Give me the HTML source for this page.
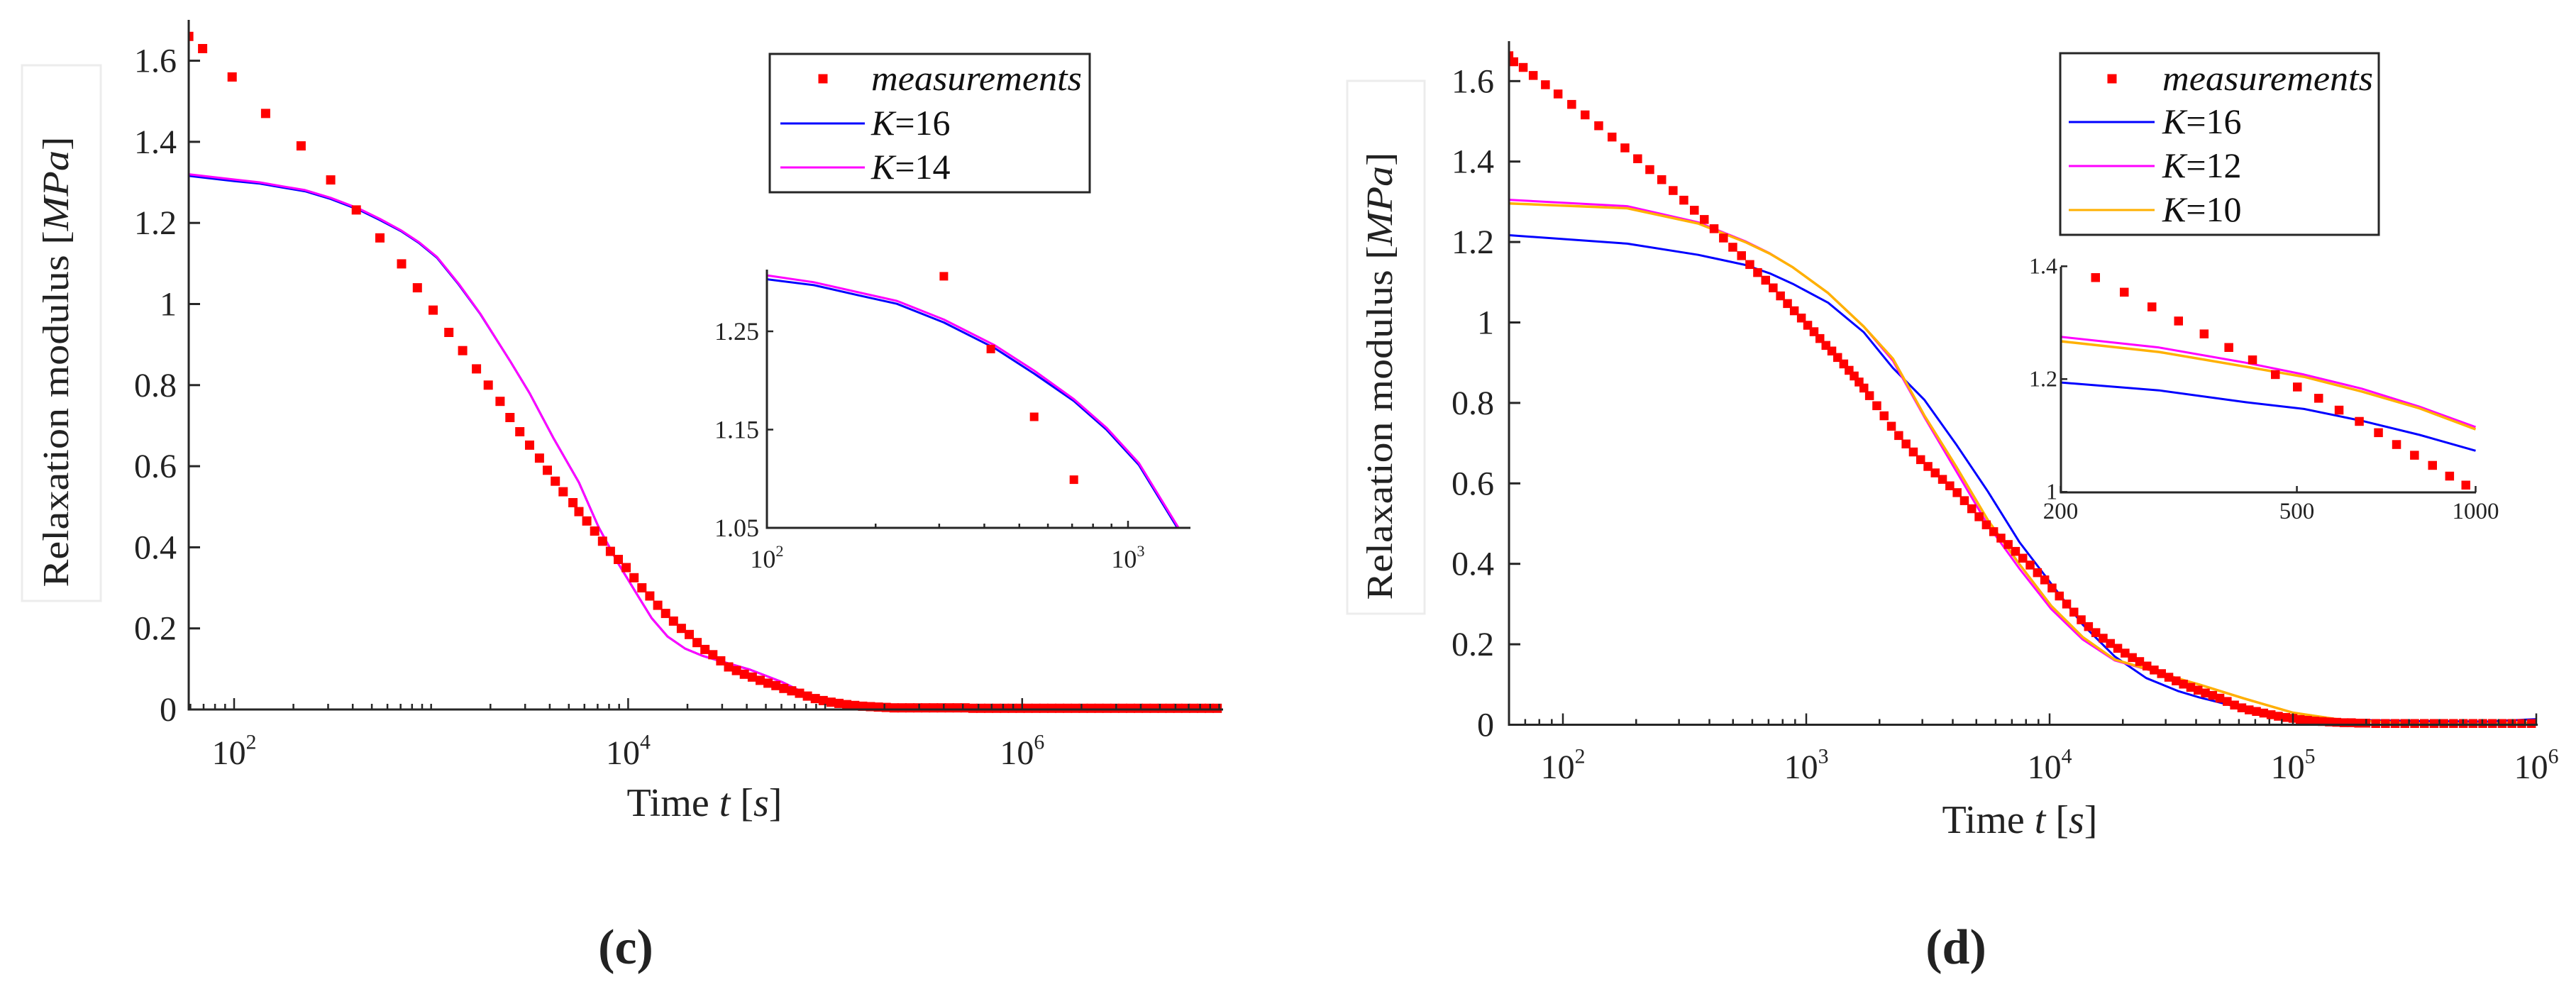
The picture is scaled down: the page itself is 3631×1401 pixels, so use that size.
<!DOCTYPE html>
<html><head><meta charset="utf-8"><style>
html,body{margin:0;padding:0;background:#fff;width:3631px;height:1401px;overflow:hidden;}
svg{display:block;font-family:"Liberation Serif",serif;}
</style></head><body>
<svg id="fig" width="3631" height="1401" viewBox="0 0 3631 1401" xmlns="http://www.w3.org/2000/svg">
<defs>
<clipPath id="clipC"><rect x="266" y="20" width="1460" height="995"/></clipPath>
<clipPath id="clipD"><rect x="2127" y="50" width="1452" height="985"/></clipPath>
<clipPath id="clipCi"><rect x="1081" y="380" width="597" height="364"/></clipPath>
<clipPath id="clipDi"><rect x="2905" y="377" width="585" height="318"/></clipPath>
</defs>
<g id="panelC"></g>
<g id="panelD"></g>
</svg>
<script>
// ---------- Panel (c) data ----------
const cMeasLogT = [1.77,1.84,1.99,2.16,2.34,2.49,2.62,2.74,2.85,2.93,3.01,3.09,3.16,3.23,3.29,3.35,3.40,3.45,3.50,3.55,3.59,3.63,3.67,3.72,3.75,
3.79,3.83,3.87,3.91,3.95,3.99,4.03,4.07,4.11,4.15,4.19,4.23,4.27,4.31,4.35,4.39,4.43,4.47,4.51,4.55,4.59,4.63,4.67,4.71,4.75,4.79,4.83,4.87,4.91,4.95,4.99,5.03,5.07,5.11,5.15,5.19,5.23,5.27,5.31,
5.35,5.39,5.43,5.47,5.51,5.55,5.59,5.63,5.67,5.71,5.75,5.79,5.83,5.87,5.91,5.95,5.99,6.03,6.07,6.11,6.15,6.19,6.23,6.27,6.31,6.35,6.39,6.43,6.47,6.51,6.55,6.59,6.63,6.67,6.71,6.75,6.79,6.83,6.87,6.91,6.95,6.99];
const cMeasG = [1.66,1.63,1.56,1.47,1.39,1.306,1.232,1.163,1.099,1.04,0.985,0.93,0.885,0.84,0.80,0.76,0.72,0.685,0.652,0.62,0.59,0.563,0.537,0.51,0.488,
0.465,0.44,0.415,0.39,0.37,0.35,0.325,0.30,0.28,0.257,0.237,0.218,0.20,0.185,0.165,0.148,0.135,0.12,0.105,0.096,0.087,0.08,0.072,0.065,0.059,0.052,0.046,0.04,0.033,0.027,0.022,0.018,0.015,0.012,0.01,0.008,0.007,0.006,0.005,
0.004,0.004,0.004,0.004,0.004,0.004,0.004,0.004,0.004,0.004,0.003,0.003,0.003,0.003,0.003,0.003,0.003,0.003,0.003,0.003,0.003,0.003,0.003,0.003,0.003,0.003,0.003,0.003,0.003,0.003,0.003,0.003,0.003,0.003,0.003,0.003,0.003,0.003,0.003,0.003,0.003,0.003];
const cFitLogT = [1.77,2.0,2.13,2.25,2.36,2.49,2.63,2.74,2.85,2.94,3.03,3.14,3.25,3.4,3.5,3.62,3.75,3.85,3.95,4.05,4.12,4.2,4.29,4.38,4.45,4.62,4.78,4.94,5.1,5.3,7.0];
const cK14G = [1.32,1.307,1.30,1.29,1.281,1.262,1.236,1.21,1.181,1.152,1.116,1.05,0.976,0.86,0.78,0.67,0.56,0.45,0.36,0.28,0.225,0.18,0.15,0.132,0.122,0.098,0.068,0.03,0.005,0.002,0.002];
const cK16G = [1.316,1.303,1.297,1.287,1.278,1.259,1.233,1.207,1.179,1.150,1.114,1.048,0.975,0.86,0.78,0.67,0.56,0.45,0.36,0.28,0.225,0.18,0.15,0.132,0.122,0.098,0.068,0.03,0.005,0.003,0.003];
const cYTicks = [0,0.2,0.4,0.6,0.8,1,1.2,1.4,1.6];
const cYTickLabels = ["0","0.2","0.4","0.6","0.8","1","1.2","1.4","1.6"];
const cXMajor = [2,4,6];
const cXMajorLabels = ["2","4","6"];
const cInsetYTicks = [1.05,1.15,1.25];
const cInsetYLabels = ["1.05","1.15","1.25"];
const cInsetXTicks = [2,3];
const cInsetXLabels = ["2","3"];

// ---------- Panel (d) data ----------
const dMeasLogT = [1.778,1.798,1.837,1.878,1.928,1.98,2.036,2.091,2.147,2.202,2.255,2.307,2.357,2.406,2.453,2.497,2.54,2.581,2.621,2.66,2.698,2.734,2.768,2.8,2.833,2.864,2.894,2.923,2.951,2.98,3.006,3.032,3.056,3.081,3.105,3.129,3.154,3.176,3.197,3.217,3.237,
3.26,3.29,3.32,3.35,3.38,3.41,3.44,3.47,3.50,3.53,3.56,3.59,3.62,3.65,3.68,3.71,3.74,3.77,3.80,3.83,3.86,3.89,3.92,3.95,3.98,4.01,4.04,4.07,4.10,4.13,4.16,4.19,4.22,4.25,4.28,4.31,4.34,4.37,4.40,4.43,4.46,4.49,4.52,4.55,4.58,4.61,4.64,4.67,4.70,4.73,4.76,4.79,4.82,4.85,4.88,4.91,4.94,4.97,5.00,5.03,5.06,5.09,5.12,5.15,5.18,5.21,5.24,5.27,5.30,
5.34,5.38,5.42,5.46,5.50,5.54,5.58,5.62,5.66,5.70,5.74,5.78,5.82,5.86,5.90,5.94,5.98];
const dMeasG = [1.663,1.648,1.634,1.614,1.591,1.568,1.542,1.516,1.489,1.461,1.434,1.407,1.38,1.355,1.328,1.304,1.279,1.256,1.233,1.21,1.187,1.166,1.144,1.124,1.105,1.086,1.066,1.047,1.029,1.011,0.993,0.977,0.96,0.943,0.929,0.913,0.897,0.881,0.867,0.852,0.837,
0.818,0.793,0.768,0.742,0.719,0.698,0.678,0.659,0.642,0.626,0.61,0.594,0.577,0.557,0.537,0.517,0.497,0.48,0.464,0.448,0.431,0.414,0.397,0.378,0.36,0.34,0.32,0.3,0.28,0.261,0.244,0.229,0.215,0.202,0.19,0.178,0.167,0.157,0.146,0.136,0.127,0.118,0.109,0.101,0.093,0.086,0.079,0.073,0.066,0.058,0.049,0.042,0.037,0.033,0.029,0.025,0.021,0.018,0.016,0.013,0.011,0.009,0.008,0.007,0.006,0.005,0.005,0.004,0.004,
0.003,0.003,0.003,0.003,0.003,0.003,0.003,0.003,0.003,0.003,0.003,0.003,0.003,0.003,0.003,0.003,0.003];
const dFitLogT = [1.778,2.264,2.556,2.749,2.85,2.945,3.09,3.236,3.356,3.485,3.615,3.746,3.876,4.006,4.136,4.267,4.397,4.527,4.615,4.8,5.0,5.2,5.5,5.8,6.0];
const dK16G = [1.217,1.196,1.168,1.143,1.122,1.096,1.049,0.976,0.887,0.808,0.698,0.58,0.454,0.351,0.249,0.17,0.116,0.084,0.068,0.04,0.02,0.012,0.009,0.008,0.014];
const dK12G = [1.305,1.289,1.249,1.202,1.172,1.137,1.073,0.99,0.905,0.765,0.632,0.497,0.388,0.288,0.212,0.16,0.138,0.115,0.10,0.065,0.03,0.012,0.003,0.002,0.006];
const dK10G = [1.296,1.284,1.246,1.20,1.171,1.137,1.073,0.99,0.91,0.769,0.643,0.509,0.399,0.296,0.218,0.162,0.139,0.115,0.10,0.065,0.03,0.012,0.003,0.002,0.005];
const dYTicks = [0,0.2,0.4,0.6,0.8,1,1.2,1.4,1.6];
const dYTickLabels = ["0","0.2","0.4","0.6","0.8","1","1.2","1.4","1.6"];
const dXMajor = [2,3,4,5,6];
const dXMajorLabels = ["2","3","4","5","6"];
// inset (d)
const dInsetMeasT = [229,256,285,316,349,384,421,460,501,544,589,637,686,736,789,846,904,963];
const dInsetMeasG = [1.380,1.354,1.328,1.303,1.280,1.256,1.234,1.208,1.186,1.166,1.145,1.125,1.105,1.084,1.065,1.047,1.028,1.012];
const dInsetFitT = [200,293,410,514,643,805,1000];
const dInsetK16G = [1.194,1.180,1.159,1.147,1.126,1.101,1.073];
const dInsetK12G = [1.275,1.256,1.229,1.208,1.183,1.151,1.115];
const dInsetK10G = [1.267,1.248,1.222,1.204,1.178,1.148,1.111];
const dInsetYTicks = [1,1.2,1.4];
const dInsetYLabels = ["1","1.2","1.4"];
const dInsetXTicks = [200,500,1000];
const dInsetXLabels = ["200","500","1000"];

const NS = "http://www.w3.org/2000/svg";
const AX = "#262626";
function mk(tag, attrs, parent){const e=document.createElementNS(NS,tag);for(const k in attrs)e.setAttribute(k,attrs[k]);if(parent)parent.appendChild(e);return e;}

const cx = l => 330 + (l-2)*277.7, cy = v => 1000 - v*571.5;
const dx = l => 2203 + (l-2)*343, dy = v => 1021.5 - v*567;
const cix = l => 1081 + (l-2)*509, ciy = v => 744 - (v-1.05)*1385;
const dix = t => 2904.5 + Math.log(t/200)/Math.log(5)*585, diy = v => 693.3 - (v-1)*795;

function drawLine(g, xs, ys, fx, fy, color, w, name, clip){
  let d="";
  for(let i=0;i<xs.length;i++){d+=(i?"L":"M")+fx(xs[i]).toFixed(1)+","+fy(ys[i]).toFixed(1);}
  const p = mk("path",{d:d,fill:"none",stroke:color,"stroke-width":w,"stroke-linejoin":"round","clip-path":"url(#"+clip+")"},g);
  
  
}
function drawMarkers(g, xs, ys, fx, fy, s, name, clip){
  const grp = mk("g",{"clip-path":"url(#"+clip+")"},g);
  
  
  for(let i=0;i<xs.length;i++){
    const r = mk("rect",{x:(fx(xs[i])-s/2).toFixed(1),y:(fy(ys[i])-s/2).toFixed(1),width:s,height:s,fill:"#ff0000"},grp);
    
    
  }
}
function text(g, x, y, str, size, anchor, name, extra){
  const t = mk("text",Object.assign({x:x,y:y,"font-size":size,"text-anchor":anchor||"start",fill:"#222"},extra||{}),g);
  t.textContent = str;
  
  
  return t;
}
function pow10(g, x, y, exp, size, name){
  const t = mk("text",{x:x,y:y,"font-size":size,"text-anchor":"middle",fill:"#222"},g);
  
  
  const a = mk("tspan",{},t); a.textContent="10";
  const b = mk("tspan",{"font-size":size*0.62,dy:-size*0.45}); b.textContent=exp; t.appendChild(b);
}
function ylabel(g, cxp, cyp, len, size){
  const t = mk("text",{transform:"translate("+cxp+","+cyp+") rotate(-90)","font-size":size,"text-anchor":"middle",fill:"#222",textLength:len,lengthAdjust:"spacingAndGlyphs"},g);
  
  
  const a=mk("tspan",{},t); a.textContent="Relaxation modulus [";
  const b=mk("tspan",{"font-style":"italic"},t); b.textContent="MPa";
  const c=mk("tspan",{},t); c.textContent="]";
}
function xlabel(g, cxp, y, size){
  const t = mk("text",{x:cxp,y:y,"font-size":size,"text-anchor":"middle",fill:"#222"},g);
  
  
  const a=mk("tspan",{},t); a.textContent="Time ";
  const b=mk("tspan",{"font-style":"italic"},t); b.textContent="t";
  const c=mk("tspan",{},t); c.textContent=" [";
  const d=mk("tspan",{"font-style":"italic"},t); d.textContent="s";
  const e=mk("tspan",{},t); e.textContent="]";
}
function logTicks(g, fx, y0, lo, hi, majorSet, majLen, minLen){
  for(let dec=Math.floor(lo); dec<=Math.ceil(hi); dec++){
    for(let m=1;m<=9;m++){
      const l = dec+Math.log10(m);
      if(l<lo-1e-6||l>hi+1e-6) continue;
      const len = (m===1 && majorSet.indexOf(dec)>=0)?majLen:minLen;
      const tk = mk("line",{x1:fx(l),x2:fx(l),y1:y0,y2:y0-len,stroke:AX,"stroke-width":2.5},g);
      
      
    }
  }
}
function legend(g, x, y, w, h, entries, labelX, lineX1, lineX2, markerX, rowYs, size){
  const lg = mk("g",{},g);
  
  
  mk("rect",{x:x,y:y,width:w,height:h,fill:"#fff",stroke:AX,"stroke-width":3},lg);
  entries.forEach((en,i)=>{
    const ry=rowYs[i];
    const eg = mk("g",{},lg);
    
    
    if(en.marker){ mk("rect",{x:markerX-6.5,y:ry-16-6.5,width:13,height:13,fill:"#ff0000"},eg); }
    else { mk("line",{x1:lineX1,x2:lineX2,y1:ry-16,y2:ry-16,stroke:en.color,"stroke-width":3},eg); }
    const t = mk("text",{x:labelX,y:ry,"font-size":size,fill:"#111"},eg);
    if(en.marker){ t.setAttribute("font-style","italic"); t.setAttribute("textLength","297"); t.setAttribute("lengthAdjust","spacingAndGlyphs"); t.textContent="measurements"; }
    else { const a=mk("tspan",{"font-style":"italic"},t); a.textContent="K"; const b=mk("tspan",{},t); b.textContent="="+en.k; }
  });
}

// ===== Panel C =====
(function(){
  const g = document.getElementById("panelC");
  const box = mk("rect",{x:31,y:92,width:111,height:755,fill:"none",stroke:"#ececec","stroke-width":3},g);
   
  ylabel(g, 96, 510, 635, 52);
  drawLine(g, cFitLogT, cK16G, cx, cy, "#0000ff", 3, "line-k16", "clipC");
  drawLine(g, cFitLogT, cK14G, cx, cy, "#ff00ff", 3, "line-k14", "clipC");
  drawMarkers(g, cMeasLogT, cMeasG, cx, cy, 13, "measurements-series", "clipC");
  const ax = mk("path",{d:"M266,28 L266,1000 L1724,1000",fill:"none",stroke:AX,"stroke-width":3},g);
   
  cYTicks.forEach((v,i)=>{
    const tk=mk("line",{x1:266,x2:282,y1:cy(v),y2:cy(v),stroke:AX,"stroke-width":3},g);
     
    text(g, 249, cy(v)+16, cYTickLabels[i], 48, "end", "y-tick-label");
  });
  logTicks(g, cx, 1000, Math.log10(59), 7.0, cXMajor, 16, 8);
  cXMajor.forEach((l,i)=>pow10(g, cx(l), 1077, cXMajorLabels[i], 48, "x-tick-label"));
  xlabel(g, 993, 1150, 56);
  text(g, 882, 1358, "(c)", 70, "middle", "panel-label-c", {"font-weight":"bold"});
  legend(g, 1085, 76, 451, 195, [{marker:true},{k:"16",color:"#0000ff"},{k:"14",color:"#ff00ff"}], 1228, 1100, 1219, 1160, [127,190,252], 50);
  const ig = mk("g",{},g);
   
  drawLine(ig, cFitLogT, cK16G, cix, ciy, "#0000ff", 3, "inset-line-k16", "clipCi");
  drawLine(ig, cFitLogT, cK14G, cix, ciy, "#ff00ff", 3, "inset-line-k14", "clipCi");
  drawMarkers(ig, cMeasLogT, cMeasG, cix, ciy, 12, "inset-measurements", "clipCi");
  const iax = mk("path",{d:"M1081,380 L1081,744 L1678,744",fill:"none",stroke:AX,"stroke-width":3},ig);
   
  cInsetYTicks.forEach((v,i)=>{
    mk("line",{x1:1081,x2:1090,y1:ciy(v),y2:ciy(v),stroke:AX,"stroke-width":2.5},ig);
    text(ig, 1070, ciy(v)+12, cInsetYLabels[i], 36, "end", "inset-y-tick-label");
  });
  logTicks(ig, cix, 744, 2, 3.17, cInsetXTicks, 10, 6);
  cInsetXTicks.forEach((l,i)=>pow10(ig, cix(l), 800, cInsetXLabels[i], 36, "inset-x-tick-label"));
})();

// ===== Panel D =====
(function(){
  const g = document.getElementById("panelD");
  const box = mk("rect",{x:1899,y:114,width:109,height:751,fill:"none",stroke:"#ececec","stroke-width":3},g);
   
  ylabel(g, 1962, 530, 631, 52);
  drawLine(g, dFitLogT, dK16G, dx, dy, "#0000ff", 3, "line-k16", "clipD");
  drawLine(g, dFitLogT, dK12G, dx, dy, "#ff00ff", 3, "line-k12", "clipD");
  drawLine(g, dFitLogT, dK10G, dx, dy, "#ffb000", 3.5, "line-k10", "clipD");
  drawMarkers(g, dMeasLogT, dMeasG, dx, dy, 12.5, "measurements-series", "clipD");
  const ax = mk("path",{d:"M2127,58 L2127,1021.5 L3577,1021.5",fill:"none",stroke:AX,"stroke-width":3},g);
   
  dYTicks.forEach((v,i)=>{
    const tk=mk("line",{x1:2127,x2:2143,y1:dy(v),y2:dy(v),stroke:AX,"stroke-width":3},g);
     
    text(g, 2106, dy(v)+16, dYTickLabels[i], 48, "end", "y-tick-label");
  });
  logTicks(g, dx, 1021.5, Math.log10(60), 6.0, dXMajor, 16, 8);
  dXMajor.forEach((l,i)=>pow10(g, dx(l), 1097, dXMajorLabels[i], 48, "x-tick-label"));
  xlabel(g, 2847, 1174, 56);
  text(g, 2757, 1358, "(d)", 70, "middle", "panel-label-d", {"font-weight":"bold"});
  legend(g, 2904, 75, 449, 256, [{marker:true},{k:"16",color:"#0000ff"},{k:"12",color:"#ff00ff"},{k:"10",color:"#ffb000"}], 3048, 2916, 3037, 2977, [127,188,250,312], 50);
  const ig = mk("g",{},g);
   
  drawLine(ig, dInsetFitT, dInsetK16G, dix, diy, "#0000ff", 3, "inset-line-k16", "clipDi");
  drawLine(ig, dInsetFitT, dInsetK12G, dix, diy, "#ff00ff", 3, "inset-line-k12", "clipDi");
  drawLine(ig, dInsetFitT, dInsetK10G, dix, diy, "#ffb000", 3.5, "inset-line-k10", "clipDi");
  drawMarkers(ig, dInsetMeasT, dInsetMeasG, dix, diy, 12.5, "inset-measurements", "clipDi");
  const iax = mk("path",{d:"M2905,376 L2905,694 L3490,694",fill:"none",stroke:AX,"stroke-width":3},ig);
   
  dInsetYTicks.forEach((v,i)=>{
    mk("line",{x1:2905,x2:2914,y1:diy(v),y2:diy(v),stroke:AX,"stroke-width":2.5},ig);
    text(ig, 2900, diy(v)+10, dInsetYLabels[i], 32, "end", "inset-y-tick-label");
  });
  dInsetXTicks.forEach((t,i)=>{
    mk("line",{x1:dix(t),x2:dix(t),y1:694,y2:685,stroke:AX,"stroke-width":2.5},ig);
    text(ig, dix(t), 731, dInsetXLabels[i], 33, "middle", "inset-x-tick-label");
  });
})();
</script>
</body></html>
